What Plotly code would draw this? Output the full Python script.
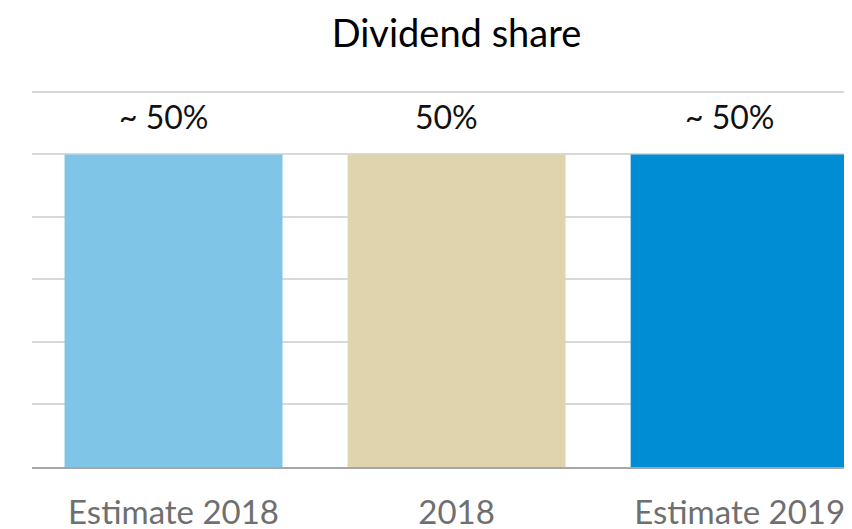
import plotly.graph_objects as go

categories = ["Estimate 2018", "2018", "Estimate 2019"]
values = [50, 50, 50]
labels = ["~ 50%", "50%", "~ 50%"]
colors = ["#7FC5E8", "#E0D4AE", "#008DD4"]

FONT = "Lato, sans-serif"

fig = go.Figure()
fig.add_trace(go.Bar(x=categories, y=values, marker=dict(color=colors, line=dict(width=0)),
                     hoverinfo="skip"))

for i, (v, t) in enumerate(zip(values, labels)):
    fig.add_annotation(x=i, y=v, text=t, showarrow=False, yanchor="middle",
                       yshift=38, xshift=-10,
                       font=dict(family=FONT, size=32, color="#111111"))

fig.update_layout(
    width=852, height=529,
    margin=dict(l=24, r=8, t=82, b=70, autoexpand=False),
    paper_bgcolor="white", plot_bgcolor="white",
    bargap=0.23,
    showlegend=False,
    title=dict(text="Dividend share", x=448.5 / 852, xref="container", xanchor="center",
               y=1 - 26 / 529, yref="container", yanchor="middle",
               font=dict(family=FONT, size=38, color="#000000")),
    font=dict(family=FONT),
)
fig.update_xaxes(range=[-0.5, 2.397], automargin=False, showgrid=False,
                 showline=True, linecolor="#A6A6A6",
                 linewidth=2, ticks="outside", ticklen=15, tickcolor="rgba(0,0,0,0)",
                 tickfont=dict(family=FONT, size=33, color="#6F6F6F"))
fig.update_yaxes(range=[0, 60.3], dtick=10, showgrid=True, gridcolor="#D9D9D9", gridwidth=2,
                 showticklabels=False, zeroline=False, automargin=False)

fig.write_html("out.html")
